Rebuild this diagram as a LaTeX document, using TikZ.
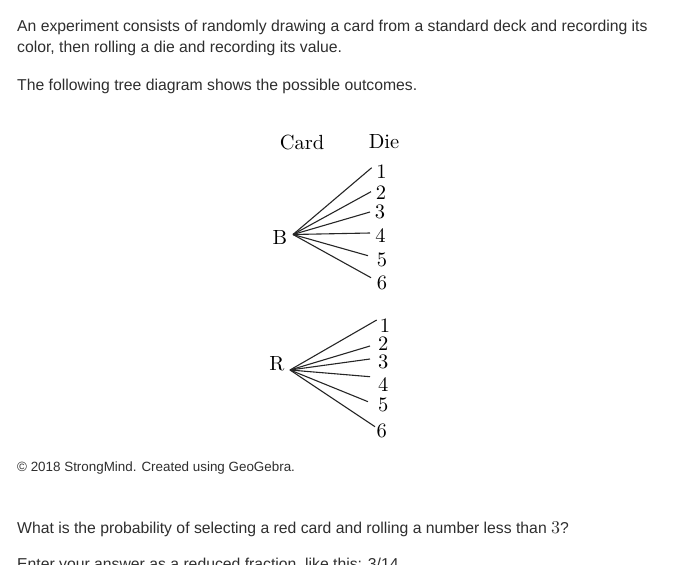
\documentclass[tikz,border=0pt]{standalone}
\usepackage{fontspec}
\setmainfont{Liberation Sans}
\newfontfamily\lmfont{lmroman10-regular.otf}
\definecolor{txt}{HTML}{2E2E2E}
\begin{document}
\begin{tikzpicture}[x=1pt,y=-1pt,
  body/.style={anchor=base west,inner sep=0pt,text=txt,font=\fontsize{15.75}{18}\selectfont},
  small/.style={anchor=base west,inner sep=0pt,text=txt,font=\fontsize{13.4}{15}\selectfont},
  tree/.style={inner sep=0pt,text=black,font=\lmfont\fontsize{20.5}{22}\selectfont},
  branch/.style={draw=black!85,line width=1.1pt}]
\useasboundingbox (0,0) rectangle (691,565);
\node[body] (t1) at (17,31) {An experiment consists of randomly drawing a card from a standard deck and recording its};
\node[body] (t2) at (17,52.5) {color, then rolling a die and recording its value.};
\node[body] (t3) at (17,90.5) {The following tree diagram shows the possible outcomes.};
% tree
\node[tree] (card) at (302,142) {Card};
\node[tree] (die) at (384,142) {Die};
\node[tree] (B) at (280,237) {B};
\node[tree] (R) at (277,364) {R};
\coordinate (bo) at (293,234.5);
\coordinate (ro) at (290,370);
\foreach \i/\ex/\ey/\lx/\ly in {1/371.7/167.7/381.5/171.5,2/371/191.7/381/193,3/370/212/380/212,4/370/233/380.5/236,5/368/255.7/382/260,6/371/277.7/382/283}{
  \node[tree] (b\i) at (\lx,\ly) {\i};
  \coordinate (be\i) at (\ex,\ey);
  \draw[branch] (bo) -- (be\i);
}
\foreach \i/\ex/\ey/\lx/\ly in {1/376.7/320/385/325.5,2/370/346/383.3/343.3,3/370/359/383.3/361.7,4/370/376.7/383.3/385,5/368/401.7/383.3/405,6/375/426.7/381.7/431}{
  \node[tree] (r\i) at (\lx,\ly) {\i};
  \coordinate (re\i) at (\ex,\ey);
  \draw[branch] (ro) -- (re\i);
}
\node[small] (copy) at (17,471) {© 2018 StrongMind. Created using GeoGebra.};
\node[body] (q) at (17,533) {What is the probability of selecting a red card and rolling a number less than {\lmfont\fontsize{18}{19}\selectfont 3}?};
\node[body] (enter) at (17,569) {Enter your answer as a reduced fraction, like this: 3/14};
\end{tikzpicture}
\end{document}
